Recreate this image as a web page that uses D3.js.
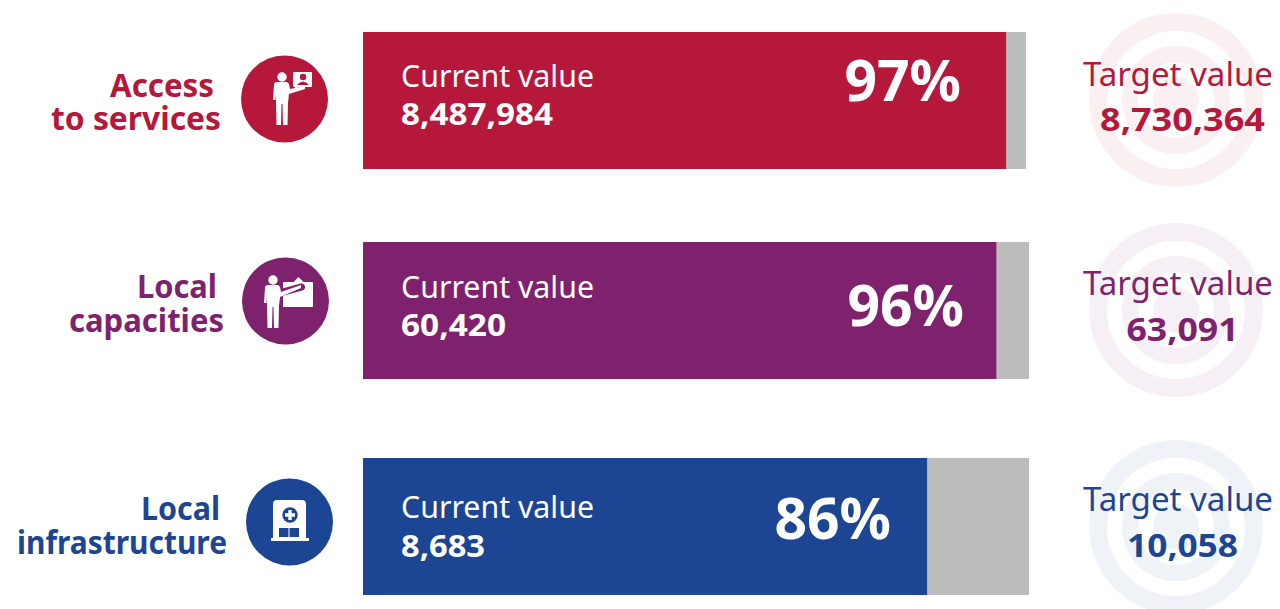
<!DOCTYPE html>
<html><head><meta charset="utf-8">
<script src="https://cdn.jsdelivr.net/npm/d3@7"></script>
<style>html,body{margin:0;padding:0;background:#fff}svg{display:block}text{font-family:"Noto Sans",sans-serif}</style>
</head><body><svg id="c" width="1280" height="609"></svg>
<script>
const labels=[["Access","to services"],["Local","capacities"],["Local","infrastructure"]];
const labelWidths=[[104,170],[80,155],[79,210]];
const currentValues=["8,487,984","60,420","8,683"];
const currentWidths=[152,105,84];
const targetValues=["8,730,364","63,091","10,058"];
const targetWidths=[165,112,111];
const percents=[97,96,86];
const filled=[0.97,0.951,0.847];
const colors=["#b5183b","#7f226e","#1c4593"];
const iconKinds=["speech","board","clinic"];
const rows=[
 {y:32,x1:1026,lx:[214,221],ly:[97,130],ic:[284.5,99],px:961,py:101,ty:[86,131],rc:[1176,100],cy:[87,125]},
 {y:242,x1:1029,lx:[217,224],ly:[298,332],ic:[285.5,301],px:964,py:326,ty:[295,341],rc:[1176,310],cy:[298,336]},
 {y:458,x1:1029,lx:[220,227],ly:[520,554],ic:[289.5,522],px:891,py:539,ty:[511,557],rc:[1176,527],cy:[518,557]}
];
const svg=d3.select("#c");
const g=svg.selectAll("g.row").data(rows).join("g").attr("class","row");
g.each(function(r,i){
 const s=d3.select(this),col=colors[i];
 const x=d3.scaleLinear().domain([0,1]).range([363,r.x1]);
 const rings=s.append("g").attr("fill",col).attr("fill-opacity",0.07);
 [[87,69],[54,38],[23,0]].forEach(([o,n])=>{
  rings.append("path").attr("transform",`translate(${r.rc})`)
   .attr("d",d3.arc()({innerRadius:n,outerRadius:o,startAngle:0,endAngle:2*Math.PI}));
 });
 s.append("rect").attr("x",x(0)).attr("y",r.y).attr("width",x(1)-x(0)).attr("height",137).attr("fill","#bcbcbc");
 s.append("rect").attr("x",x(0)).attr("y",r.y).attr("width",x(filled[i])-x(0)).attr("height",137).attr("fill",col);
 labels[i].forEach((t,k)=>s.append("text").attr("x",r.lx[k]-labelWidths[i][k]).attr("y",r.ly[k])
  .attr("font-size",32).attr("font-weight",700).attr("fill",col)
  .attr("textLength",labelWidths[i][k]).attr("lengthAdjust","spacingAndGlyphs").text(t));
 s.append("circle").attr("cx",r.ic[0]).attr("cy",r.ic[1]).attr("r",43.5).attr("fill",col);
 const ic=s.append("g").attr("transform",`translate(${r.ic})`).attr("fill","#fff");
 drawIcon(ic,iconKinds[i],col);
 s.append("text").attr("x",401).attr("y",r.cy[0]).attr("font-size",30).attr("fill","#fff")
  .attr("textLength",193).attr("lengthAdjust","spacingAndGlyphs").text("Current value");
 s.append("text").attr("x",401).attr("y",r.cy[1]).attr("font-size",30).attr("font-weight",700).attr("fill","#fff")
  .attr("textLength",currentWidths[i]).attr("lengthAdjust","spacingAndGlyphs").text(currentValues[i]);
 s.append("text").attr("x",r.px).attr("y",r.py).attr("text-anchor","end").attr("font-size",57).attr("font-weight",700).attr("fill","#fff").text(percents[i]+"%");
 s.append("text").attr("x",1083).attr("y",r.ty[0]).attr("font-size",33).attr("fill",col)
  .attr("textLength",190).attr("lengthAdjust","spacingAndGlyphs").text("Target value");
 s.append("text").attr("x",1182.5-targetWidths[i]/2).attr("y",r.ty[1]).attr("font-size",32).attr("font-weight",700).attr("fill",col)
  .attr("textLength",targetWidths[i]).attr("lengthAdjust","spacingAndGlyphs").text(targetValues[i]);
});
function person(g,dx,dy,ax,ay){
 const p=g.append("g").attr("transform",`translate(${dx},${dy})`);
 p.append("circle").attr("cx",0).attr("cy",-22).attr("r",4.7);
 p.append("path").attr("d",`M-8,-14 Q-8,-17 -5,-17 L4,-17 Q6,-17 7,-15 L8,-10 L${ax},${ay-3} L${ax},${ay} L7,-5 L6,4 L5.5,26 L1,26 L0.5,5 L-0.5,5 L-1,26 L-5.5,26 L-6,4 L-6,-6 L-6.5,1 L-9,1Z`);
}
function drawIcon(ic,kind,col){
 if(kind==="speech"){
  person(ic,-2.5,0,23,-10);
  ic.append("path").attr("d","M9.5,-27 L26.5,-27 Q27.5,-27 27.5,-26 L27.5,-13 Q27.5,-12 26.5,-12 L14,-12 L10,-8 L10.5,-12 Q8.5,-12 8.5,-13 L8.5,-26 Q8.5,-27 9.5,-27Z");
  ic.append("circle").attr("cx",18.5).attr("cy",-22).attr("r",3.2).attr("fill",col);
  ic.append("path").attr("d","M12.5,-14 Q18.5,-21 24.5,-14Z").attr("fill",col);
 } else if(kind==="board"){
  ic.append("path").attr("d","M-2.5,-19 L8,-19 L13,-24 L18,-19 L27.5,-19 L27.5,6 L-2.5,6Z");
  ic.append("path").attr("d","M-6,-8 L16,-14").attr("stroke",col).attr("stroke-width",7).attr("stroke-linecap","round").attr("fill","none");
  person(ic,-12.5,1,28,-14);
 } else {
  ic.append("path").attr("d","M-16.5,17 L-16.5,-18 Q-16.5,-22 -12.5,-22 L12.5,-22 Q16.5,-22 16.5,-18 L16.5,17Z");
  ic.append("rect").attr("x",-18.5).attr("y",16).attr("width",38).attr("height",3);
  ic.append("circle").attr("cx",0.5).attr("cy",-7).attr("r",7.7).attr("fill",col);
  ic.append("path").attr("d","M-1.2,-12 h3.4 v3.3 h3.3 v3.4 h-3.3 v3.3 h-3.4 v-3.3 h-3.3 v-3.4 h3.3Z");
  ic.append("rect").attr("x",-10.5).attr("y",6).attr("width",9.5).attr("height",9).attr("fill",col);
  ic.append("rect").attr("x",0).attr("y",6).attr("width",9.5).attr("height",9).attr("fill",col);
 }
}
</script></body></html>
